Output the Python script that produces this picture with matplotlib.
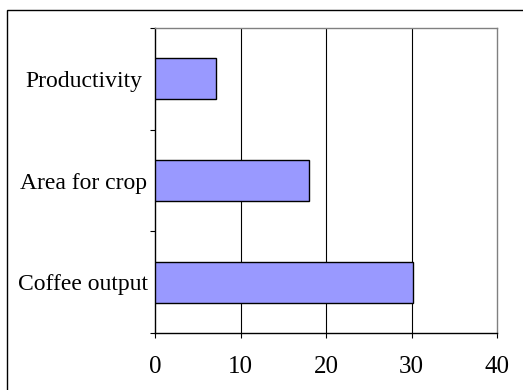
import matplotlib

matplotlib.use("Agg")
import matplotlib.pyplot as plt
from matplotlib.patches import Rectangle
from matplotlib.ticker import FixedLocator

# bottom-to-top order, as drawn
categories = ["Coffee output", "Area for crop", "Productivity"]
values = [30.2, 18.0, 7.1]
xticks = [0, 10, 20, 30, 40]

W, H = 523, 390
BAR = "#9999ff"
GRAY = "#808080"

plt.rcParams["font.family"] = ["Liberation Serif", "DejaVu Serif"]

fig = plt.figure(figsize=(W / 100, H / 100), dpi=100)
fig.patch.set_facecolor("white")

# outer chart frame, runs off the right and bottom edges
fig.patches.append(Rectangle((7 / W, -0.1), 1.2, 1.1 - 10 / H, transform=fig.transFigure,
                             fill=False, ec="black", lw=1.0))

ax = fig.add_axes([155 / W, 1 - 333 / H, (497 - 155) / W, (333 - 28) / H])
ys = range(len(categories))
ax.barh(ys, values, height=0.4, color=BAR, edgecolor="black", lw=1.0, zorder=3)

ax.set_xlim(0, 40)
ax.set_ylim(-0.5, len(categories) - 0.5)
ax.set_xticks(xticks)
ax.set_xticklabels([str(t) for t in xticks], fontsize=18)
ax.set_yticks(list(ys))
ax.set_yticklabels(categories, fontsize=17, ha="center")
ax.yaxis.set_minor_locator(FixedLocator([-0.5, 0.5, 1.5, 2.5]))

# labels are centred in the space left of the axis, like the original
ax.tick_params(axis="y", which="major", length=0, pad=51.5)
ax.tick_params(axis="y", which="minor", length=3.6, width=0.8, direction="out")
ax.tick_params(axis="x", length=3.6, width=0.8, direction="out", pad=13)

for t in xticks[1:-1]:
    ax.axvline(t, color="black", lw=0.8, zorder=1)

for s in ("left", "bottom"):
    ax.spines[s].set_color("black")
    ax.spines[s].set_linewidth(1.0)
for s in ("top", "right"):
    ax.spines[s].set_color(GRAY)
    ax.spines[s].set_linewidth(1.0)

fig.savefig("out.png", dpi=100, facecolor="white")
